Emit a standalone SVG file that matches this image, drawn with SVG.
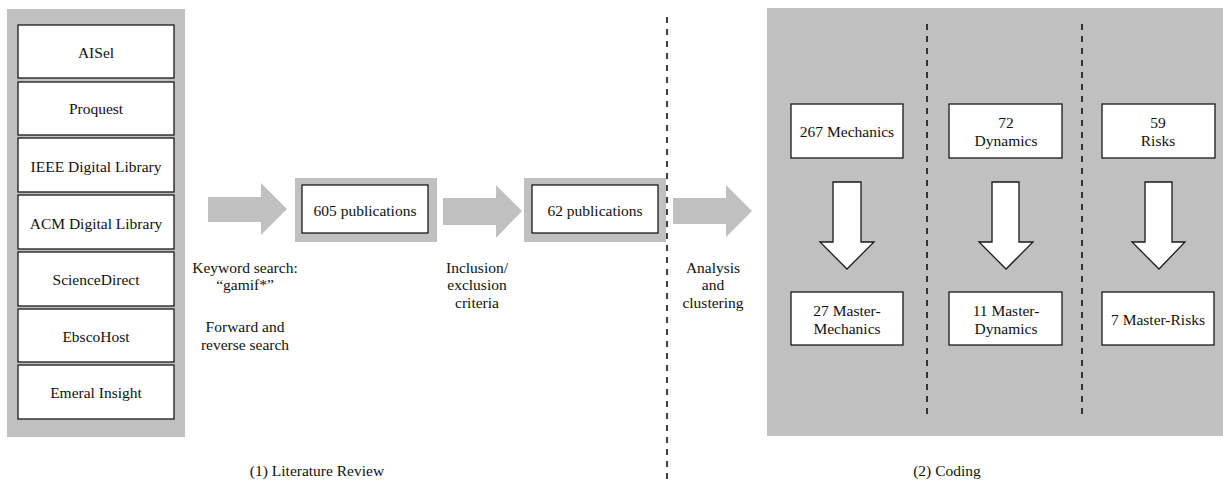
<svg xmlns="http://www.w3.org/2000/svg" width="1223" height="482" viewBox="0 0 1223 482">
<style>
text{font-family:'Liberation Serif','DejaVu Serif',serif;font-size:15.5px;fill:#111;text-anchor:middle}
.panel{fill:#c0c0c0}
.box{fill:#fff;stroke:#1a1a1a;stroke-width:1.3}
.garrow{fill:#c0c0c0}
.warrow{fill:#fff;stroke:#1a1a1a;stroke-width:1.3;stroke-linejoin:miter}
.dash{stroke:#111;stroke-width:1.6;stroke-dasharray:6 6;fill:none}
</style>
<rect width="1223" height="482" fill="#fff"/>
<g id="sources">
<rect class="panel" x="7" y="9" width="178" height="428"/>
<g id="aisel"><rect class="box" x="18" y="25" width="156" height="53"/><text x="96" y="58">AISel</text></g>
<g id="proquest"><rect class="box" x="18" y="82" width="156" height="53"/><text x="96" y="114">Proquest</text></g>
<g id="ieee"><rect class="box" x="18" y="138" width="156" height="54"/><text x="96" y="172">IEEE Digital Library</text></g>
<g id="acm"><rect class="box" x="18" y="195" width="156" height="54"/><text x="96" y="229">ACM Digital Library</text></g>
<g id="sciencedirect"><rect class="box" x="18" y="252" width="156" height="54"/><text x="96" y="285">ScienceDirect</text></g>
<g id="ebscohost"><rect class="box" x="18" y="309" width="156" height="53"/><text x="96" y="342">EbscoHost</text></g>
<g id="emeral"><rect class="box" x="18" y="365" width="156" height="54"/><text x="96" y="398">Emeral Insight</text></g>
</g>
<g id="pub605"><rect class="panel" x="295" y="178" width="142" height="64"/><rect class="box" x="302" y="185" width="126" height="48"/><text x="365" y="216">605 publications</text></g>
<g id="pub62"><rect class="panel" x="524" y="178" width="142" height="64"/><rect class="box" x="532" y="185" width="126" height="48"/><text x="595" y="216">62 publications</text></g>
<g id="coding">
<rect class="panel" x="767" y="8" width="456" height="428"/>
<g id="mech267"><rect class="box" x="791" y="104" width="112" height="54"/><text x="847" y="137">267 Mechanics</text></g>
<g id="dyn72"><rect class="box" x="949" y="104" width="113" height="54"/><text x="1006" y="128">72</text><text x="1006" y="146">Dynamics</text></g>
<g id="risk59"><rect class="box" x="1102" y="104" width="113" height="54"/><text x="1158" y="128">59</text><text x="1158" y="146">Risks</text></g>
<g id="mech27"><rect class="box" x="791" y="292" width="112" height="53"/><text x="847" y="316">27 Master-</text><text x="847" y="334">Mechanics</text></g>
<g id="dyn11"><rect class="box" x="949" y="292" width="113" height="53"/><text x="1006" y="316">11 Master-</text><text x="1006" y="334">Dynamics</text></g>
<g id="risk7"><rect class="box" x="1102" y="292" width="112" height="53"/><text x="1158" y="325">7 Master-Risks</text></g>
</g>
<g id="connectors">
<polygon class="garrow" points="208,197 261,197 261,183 287,209 261,235 261,222 208,222"/>
<polygon class="garrow" points="443,198 496,198 496,185 522,211 496,238 496,225 443,225"/>
<polygon class="garrow" points="673,198 726,198 726,185 752,211 726,237 726,224 673,224"/>
<polygon class="warrow" points="833,182 861,182 861,242 874,242 847,269 820,242 833,242"/>
<polygon class="warrow" points="992,182 1019,182 1019,242 1033,242 1006,269 979,242 992,242"/>
<polygon class="warrow" points="1145,182 1172,182 1172,242 1185,242 1159,269 1132,242 1145,242"/>
<line class="dash" x1="667" y1="17" x2="667" y2="482"/>
<line class="dash" x1="927" y1="24" x2="927" y2="418"/>
<line class="dash" x1="1082" y1="24" x2="1082" y2="418"/>
</g>
<g id="labels">
<text x="245" y="273">Keyword search:</text>
<text x="245" y="290">“gamif*”</text>
<text x="245" y="332">Forward and</text>
<text x="245" y="350">reverse search</text>
<text x="477" y="273">Inclusion/</text>
<text x="477" y="290">exclusion</text>
<text x="477" y="308">criteria</text>
<text x="713" y="273">Analysis</text>
<text x="713" y="290">and</text>
<text x="713" y="308">clustering</text>
<text x="317" y="476">(1) Literature Review</text>
<text x="947" y="476">(2) Coding</text>
</g>
</svg>
